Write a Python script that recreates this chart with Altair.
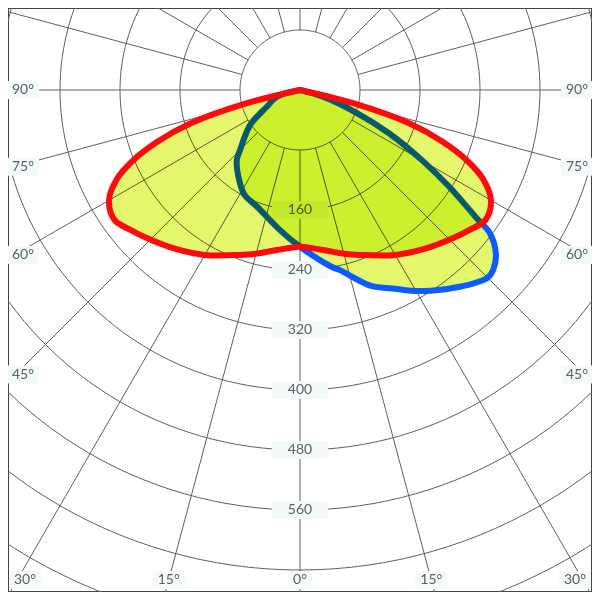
import math
import altair as alt
import pandas as pd

# ---- photometric data (angle from nadir in degrees, negative = left side; value in cd/klm) ----
red_angles = [-90, -76, -73, -70, -67, -64, -60, -55, -50, -46, -38, -30, -20, -15, -10, -5, 0,
              5, 10, 15, 20, 30, 38, 46, 50, 55, 60, 64, 67, 70, 73, 76, 90]
red_values = [0, 73, 153, 203, 243, 272, 294, 302, 292, 284, 269, 254, 234, 226, 218, 212, 209,
              212, 218, 226, 234, 254, 269, 284, 292, 302, 294, 272, 243, 203, 153, 73, 0]

blue_angles = [-90, -74, -63, -55, -45, -42, -34, -28, -20, -8, 0, 10, 12.5, 20, 25, 29, 33, 36.5,
               41, 45, 47, 50, 53, 54, 57, 60, 64, 68, 74, 90]
blue_values = [0, 32, 50, 81, 113, 126, 145, 158, 166, 189, 209, 239, 246, 278, 292, 306, 319, 330,
               344, 354, 352, 341, 317, 292, 238, 189, 133, 82, 32, 0]

ring_values = [80, 160, 240, 320, 400, 480, 560, 640, 720, 800]
ring_labels = [160, 240, 320, 400, 480, 560]
spoke_angles = list(range(-165, 181, 15))
angle_ticks = [90, 75, 60, 45, 30, 15, 0]

PX = 0.75  # pixels per unit of intensity


def polar_df(angles, values):
    return pd.DataFrame({"i": list(range(len(angles))), "angle": angles, "value": values})


red_df = polar_df(red_angles, red_values)
blue_df = polar_df(blue_angles, blue_values)

ring_rows = []
for r in ring_values:
    for k, a in enumerate(range(-180, 181, 2)):
        ring_rows.append({"ring": r, "i": k, "angle": a, "value": r})
ring_df = pd.DataFrame(ring_rows)

spoke_df = pd.DataFrame({"angle": spoke_angles, "r0": 80, "r1": 830})

rlab_df = pd.DataFrame({"label": [str(v) for v in ring_labels], "angle": 0, "value": ring_labels})


def angle_label_pos(a, side):
    if a >= 45:
        xp = 277
        yp = 0 if a == 90 else 277 / math.tan(math.radians(a)) + (90 - a) / 6
    else:
        yp = 490
        xp = min(490 * math.tan(math.radians(a)), 275)
    return side * xp / PX, -yp / PX


alab_rows = []
for a in angle_ticks:
    sides = [1] if a == 0 else [-1, 1]
    for s in sides:
        x, y = angle_label_pos(a, s)
        alab_rows.append({"label": f"{a}°", "x": x, "y": y, "narrow": a == 0})
alab_df = pd.DataFrame(alab_rows)

XS = alt.Scale(domain=[-292 / PX, 292 / PX], nice=False, zero=False)
YS = alt.Scale(domain=[-502 / PX, 82 / PX], nice=False, zero=False)
X_EXPR = "datum.value * sin(datum.angle * PI / 180)"
Y_EXPR = "-datum.value * cos(datum.angle * PI / 180)"


def xenc(f="x"):
    return alt.X(f"{f}:Q", scale=XS, axis=None)


def yenc(f="y"):
    return alt.Y(f"{f}:Q", scale=YS, axis=None)


GRID = "#5f5f5f"
BOX = "#f4f9f9"
TXT = "#5b6163"
FILL = "#e4f76c"

rings = alt.Chart(ring_df).transform_calculate(x=X_EXPR, y=Y_EXPR).mark_line(
    color=GRID, strokeWidth=1, clip=True
).encode(x=xenc(), y=yenc(), detail="ring:N", order="i:Q")

spokes = alt.Chart(spoke_df).transform_calculate(
    x="datum.r0 * sin(datum.angle * PI / 180)",
    y="-datum.r0 * cos(datum.angle * PI / 180)",
    x2="datum.r1 * sin(datum.angle * PI / 180)",
    y2="-datum.r1 * cos(datum.angle * PI / 180)",
).mark_rule(color=GRID, strokeWidth=1, clip=True).encode(
    x=xenc(), y=yenc(), x2="x2:Q", y2="y2:Q"
)

rlab_base = alt.Chart(rlab_df).transform_calculate(x=X_EXPR, y=Y_EXPR)
rlab_box = rlab_base.mark_point(
    shape="M-1,-0.31H1V0.31H-1Z", size=56 * 56, filled=True, color=BOX, opacity=1, strokeWidth=0
).encode(x=xenc(), y=yenc())
rlab_txt = rlab_base.mark_text(font="Lato", fontSize=14, color=TXT).encode(
    x=xenc(), y=yenc(), text="label:N"
)

alab_box_wide = alt.Chart(alab_df).transform_filter("!datum.narrow").mark_point(
    shape="M-1,-0.56H1V0.56H-1Z", size=32 * 32, filled=True, color=BOX, opacity=1, strokeWidth=0
).encode(x=xenc(), y=yenc())
alab_box_narrow = alt.Chart(alab_df).transform_filter("datum.narrow").mark_point(
    shape="M-1,-0.75H1V0.75H-1Z", size=24 * 24, filled=True, color=BOX, opacity=1, strokeWidth=0
).encode(x=xenc(), y=yenc())
alab_txt = alt.Chart(alab_df).mark_text(font="Lato", fontSize=14, color=TXT).encode(
    x=xenc(), y=yenc(), text="label:N"
)


def curve(df, fill, stroke):
    base = alt.Chart(df).transform_calculate(x=X_EXPR, y=Y_EXPR)
    area = base.mark_line(
        interpolate="catmull-rom", fill=fill, strokeWidth=0, strokeOpacity=0, blend="multiply"
    ).encode(x=xenc(), y=yenc(), order="i:Q")
    line = base.mark_line(
        interpolate="catmull-rom", color=stroke, strokeWidth=6, strokeJoin="round", strokeCap="round"
    ).encode(x=xenc(), y=yenc(), order="i:Q")
    return area, line


blue_area, blue_line = curve(blue_df, FILL, "#0a5cff")
red_area, red_line = curve(red_df, FILL, "#ff0a0a")

chart = alt.layer(
    rings, spokes, rlab_box, alab_box_wide, alab_box_narrow, rlab_txt, alab_txt,
    blue_area, blue_line, red_area, red_line,
).properties(width=584, height=584, padding=0, autosize="none").configure_view(
    stroke="#444444", strokeWidth=2
)

chart.save("out.html", embed_options={"renderer": "svg", "actions": False})
